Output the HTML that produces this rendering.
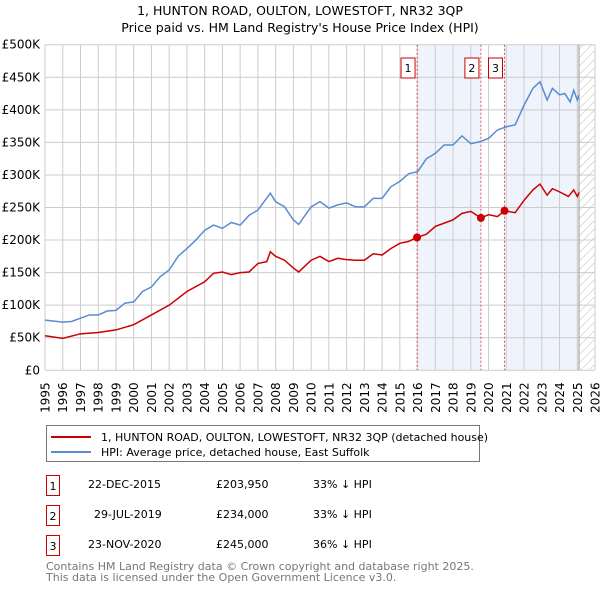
<!DOCTYPE html>
<html><head><meta charset="utf-8">
<style>
body{margin:0;background:#fff;font-family:"Liberation Sans","DejaVu Sans",sans-serif;}
#wrap{position:relative;width:600px;height:590px;overflow:hidden;}
</style></head>
<body><div id="wrap">
<svg id="chart" width="600" height="590" xmlns="http://www.w3.org/2000/svg" font-family="DejaVu Sans, Liberation Sans, sans-serif">
<defs>
<pattern id="hatch" width="6" height="6" patternUnits="userSpaceOnUse" patternTransform="rotate(45)">
<line x1="0" y1="0" x2="0" y2="6" stroke="#bbb" stroke-width="1"/></pattern>
</defs>
<text x="300" y="15" text-anchor="middle" font-size="12.5" fill="#000">1, HUNTON ROAD, OULTON, LOWESTOFT, NR32 3QP</text>
<text x="300" y="32" text-anchor="middle" font-size="12.5" fill="#000">Price paid vs. HM Land Registry's House Price Index (HPI)</text>
<g id="plot"></g>
<g>
<rect x="46.5" y="425.5" width="433" height="36" fill="#fff" stroke="#777"/>
<line x1="51" y1="437" x2="91" y2="437" stroke="#cc0000" stroke-width="2"/>
<text x="101" y="441" font-size="11">1, HUNTON ROAD, OULTON, LOWESTOFT, NR32 3QP (detached house)</text>
<line x1="51" y1="452" x2="91" y2="452" stroke="#5b8bd0" stroke-width="2"/>
<text x="101" y="456" font-size="11">HPI: Average price, detached house, East Suffolk</text>
</g>
<g font-size="11">
<rect x="46.5" y="475.5" width="13" height="20" fill="#fff" stroke="#cc0000"/>
<text x="53" y="490" text-anchor="middle">1</text>
<text x="88" y="488">22-DEC-2015</text>
<text x="216" y="488">£203,950</text>
<text x="313" y="488">33% ↓ HPI</text>
<rect x="46.5" y="505.5" width="13" height="20" fill="#fff" stroke="#cc0000"/>
<text x="53" y="520" text-anchor="middle">2</text>
<text x="94" y="518">29-JUL-2019</text>
<text x="216" y="518">£234,000</text>
<text x="313" y="518">33% ↓ HPI</text>
<rect x="46.5" y="535.5" width="13" height="20" fill="#fff" stroke="#cc0000"/>
<text x="53" y="550" text-anchor="middle">3</text>
<text x="88" y="548">23-NOV-2020</text>
<text x="216" y="548">£245,000</text>
<text x="313" y="548">36% ↓ HPI</text>
</g>
<text x="46" y="570" font-size="11" fill="#777">Contains HM Land Registry data © Crown copyright and database right 2025.</text>
<text x="46" y="581" font-size="11" fill="#777">This data is licensed under the Open Government Licence v3.0.</text>
</svg>
</div>
<script>
const hpiYears=[1995,1996,1996.5,1997,1997.5,1998,1998.5,1999,1999.5,2000,2000.5,2001,2001.5,2002,2002.5,2003,2003.5,2004,2004.5,2005,2005.5,2006,2006.5,2007,2007.7,2008,2008.5,2009,2009.3,2010,2010.5,2011,2011.5,2012,2012.5,2013,2013.5,2014,2014.5,2015,2015.5,2016,2016.5,2017,2017.5,2018,2018.5,2019,2019.5,2020,2020.5,2021,2021.5,2022,2022.5,2022.9,2023.3,2023.6,2024,2024.3,2024.6,2024.8,2025,2025.1];
const hpiValues=[77,74,75,80,85,85,91,92,103,105,121,128,144,154,175,187,200,215,223,218,227,223,238,246,272,259,251,231,224,251,259,249,254,257,251,251,264,264,282,290,302,305,325,333,346,346,360,348,351,356,369,374,377,407,433,443,415,433,423,425,412,430,415,423];
const propYears=[1995,1996,1997,1998,1999,2000,2001,2002,2003,2004,2004.5,2005,2005.5,2006,2006.5,2007,2007.5,2007.7,2008,2008.5,2009,2009.3,2010,2010.5,2011,2011.5,2012,2012.5,2013,2013.5,2014,2014.5,2015,2015.5,2015.97,2016.5,2017,2017.5,2018,2018.5,2019,2019.57,2020,2020.5,2020.9,2021.5,2022,2022.5,2022.9,2023.3,2023.6,2024,2024.5,2024.8,2025,2025.1];
const propValues=[53,49,56,58,62,70,85,100,121,136,149,151,147,150,151,164,167,182,175,169,157,151,169,175,167,172,170,169,169,179,177,187,195,198,204,209,221,226,231,241,244,234,239,236,245,242,261,277,286,269,279,274,267,277,267,273];
const saleYears=[2015.97,2019.57,2020.9];
const saleValues=[203.95,234,245];
const saleLabels=["1","2","3"];
const yTicks=[0,50,100,150,200,250,300,350,400,450,500];
const yTickLabels=["£0","£50K","£100K","£150K","£200K","£250K","£300K","£350K","£400K","£450K","£500K"];
const xTicks=[1995,1996,1997,1998,1999,2000,2001,2002,2003,2004,2005,2006,2007,2008,2009,2010,2011,2012,2013,2014,2015,2016,2017,2018,2019,2020,2021,2022,2023,2024,2025,2026];
const dataEnd=2025.1;

const X0=45,X1=595,Y0=370.3,Y1=44.7;
const xs=y=>X0+(y-1995)/(2026-1995)*(X1-X0);
const ys=v=>Y0-v/500*(Y0-Y1);
const NS="http://www.w3.org/2000/svg";
const plot=document.getElementById('plot');
function mk(tag,attrs,parent){const e=document.createElementNS(NS,tag);for(const k in attrs)e.setAttribute(k,attrs[k]);(parent||plot).appendChild(e);return e;}

let r=mk('rect',{x:xs(saleYears[0]),y:Y1,width:xs(saleYears[1])-xs(saleYears[0]),height:Y0-Y1,fill:'#eef3fc'});


r=mk('rect',{x:xs(saleYears[2]),y:Y1,width:xs(dataEnd)-xs(saleYears[2]),height:Y0-Y1,fill:'#eef3fc'});


r=mk('rect',{x:xs(dataEnd),y:Y1,width:X1-xs(dataEnd),height:Y0-Y1,fill:'url(#hatch)'});



yTicks.forEach((t,i)=>{
 const l=mk('line',{x1:X0,x2:X1,y1:ys(t),y2:ys(t),stroke:'#ccc','stroke-width':1});
 
 
 const tx=mk('text',{x:X0-5,y:ys(t)+4,'text-anchor':'end','font-size':'12',fill:'#000'});
 tx.textContent=yTickLabels[i];
 
 
});
xTicks.forEach(t=>{
 const l=mk('line',{x1:xs(t),x2:xs(t),y1:Y1,y2:Y0,stroke:'#ccc','stroke-width':1});
 
 
 const px=xs(t)+4.5, py=Y0+12;
 const tx=mk('text',{x:px,y:py,'text-anchor':'end','font-size':'12',fill:'#000',transform:'rotate(-90 '+px+' '+py+')'});
 tx.textContent=String(t);
 
 
});
let ax=mk('line',{x1:xs(dataEnd),x2:xs(dataEnd),y1:Y1,y2:Y0,stroke:'#999','stroke-width':1});



saleYears.forEach((s,i)=>{
 const l=mk('line',{x1:xs(s),x2:xs(s),y1:Y1,y2:Y0,stroke:'#e05555','stroke-width':1,'stroke-dasharray':'2,2'});
 
 
 const bx=mk('rect',{x:xs(s)-16,y:58,width:14,height:20,fill:'#fff',stroke:'#cc0000','stroke-width':1});
 
 
 const tx=mk('text',{x:xs(s)-9,y:72,'text-anchor':'middle','font-size':'11'});
 tx.textContent=saleLabels[i];
 
 
});

const hp=mk('polyline',{points:hpiYears.map((y,i)=>xs(y)+','+ys(hpiValues[i])).join(' '),fill:'none',stroke:'#5b8bd0','stroke-width':1.5});


const pp=mk('polyline',{points:propYears.map((y,i)=>xs(y)+','+ys(propValues[i])).join(' '),fill:'none',stroke:'#cc0000','stroke-width':1.5});


saleYears.forEach((s,i)=>{
 const c=mk('circle',{cx:xs(s),cy:ys(saleValues[i]),r:4,fill:'#cc0000'});
 
 
});
</script>
</body></html>
